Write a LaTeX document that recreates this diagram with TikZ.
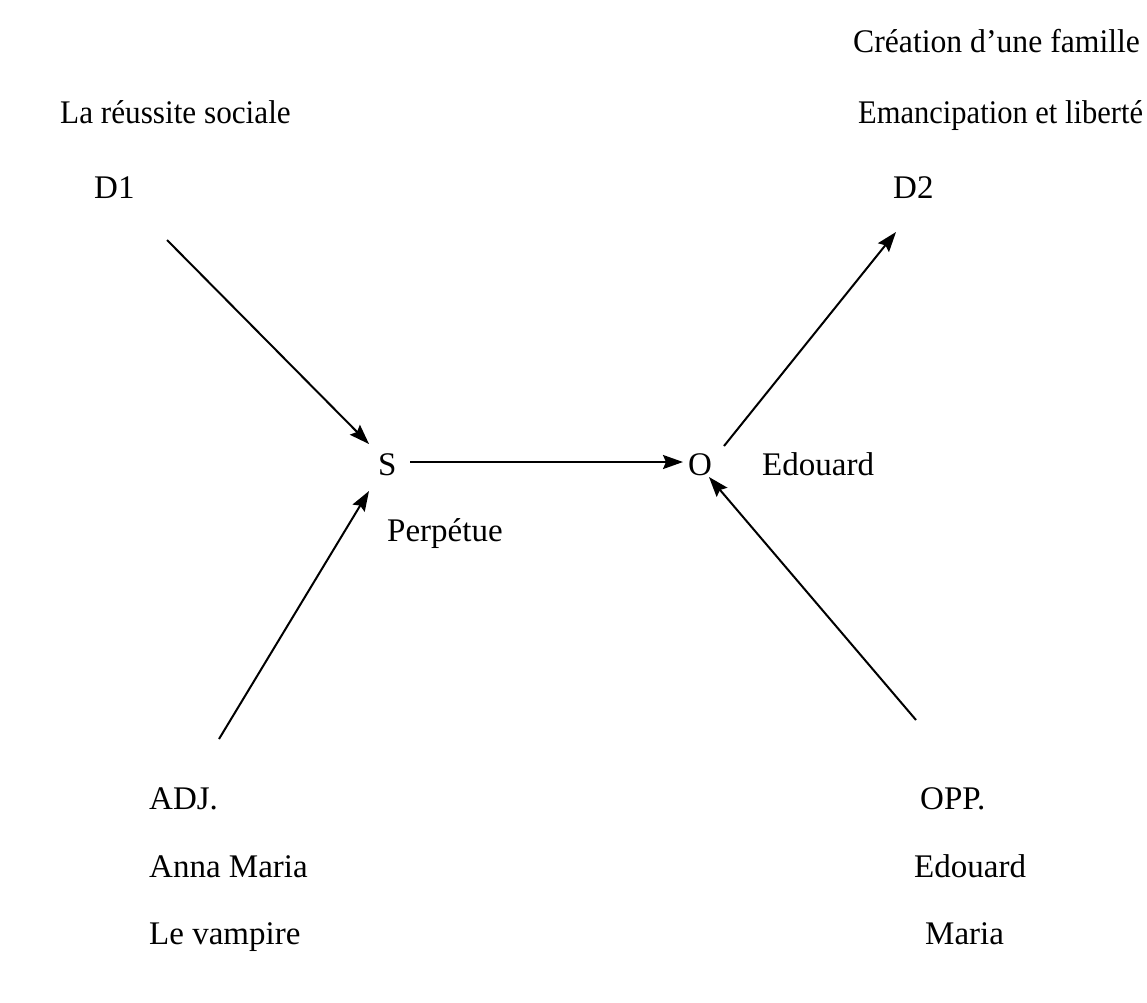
\documentclass[tikz,border=0pt]{standalone}
\usepackage{fontspec}
\setmainfont{Liberation Serif}
\usetikzlibrary{arrows.meta}
\begin{document}
\begin{tikzpicture}[x=1pt,y=-1pt,
  lbl/.style={inner sep=0pt,anchor=base west,font=\fontsize{33}{40}\selectfont},
  link/.style={line width=2pt,-{Stealth[length=20pt,width=14pt,inset=3pt]}}]
\useasboundingbox (0,0) rectangle (1147,1002);
% actants and their labels
\node[lbl] (fam)  at (853,52)  {\scalebox{0.96}[1]{Création d’une famille}};
\node[lbl] (reus) at (60,123)  {\scalebox{0.946}[1]{La réussite sociale}};
\node[lbl] (eman) at (858,123) {\scalebox{0.925}[1]{Emancipation et liberté}};
\node[lbl] (d1)   at (94,198)  {D1};
\node[lbl] (d2)   at (893,198) {D2};
\node[lbl] (s)    at (378,475) {S};
\node[lbl] (o)    at (688,475) {O};
\node[lbl] (oname) at (762,475) {Edouard};
\node[lbl] (sname) at (387,541) {Perpétue};
\node[lbl] (adj)  at (149,809) {ADJ.};
\node[lbl] (opp)  at (920,809) {OPP.};
\node[lbl] (adj1) at (149,877) {Anna Maria};
\node[lbl] (opp1) at (914,877) {Edouard};
\node[lbl] (adj2) at (149,944) {Le vampire};
\node[lbl] (opp2) at (925,944) {Maria};
% arrow end points
\coordinate (d1a) at (167,240);
\coordinate (d1b) at (369,444);
\coordinate (adja) at (219,739);
\coordinate (adjb) at (369,491);
\coordinate (soa) at (410,462);
\coordinate (sob) at (683,462);
\coordinate (od2a) at (724,446);
\coordinate (od2b) at (896,232);
\coordinate (oppa) at (916,720);
\coordinate (oppb) at (709,477);
% arrows
\draw[link] (d1a) -- (d1b);
\draw[link] (adja) -- (adjb);
\draw[link] (soa) -- (sob);
\draw[link] (od2a) -- (od2b);
\draw[link] (oppa) -- (oppb);
\end{tikzpicture}
\end{document}
